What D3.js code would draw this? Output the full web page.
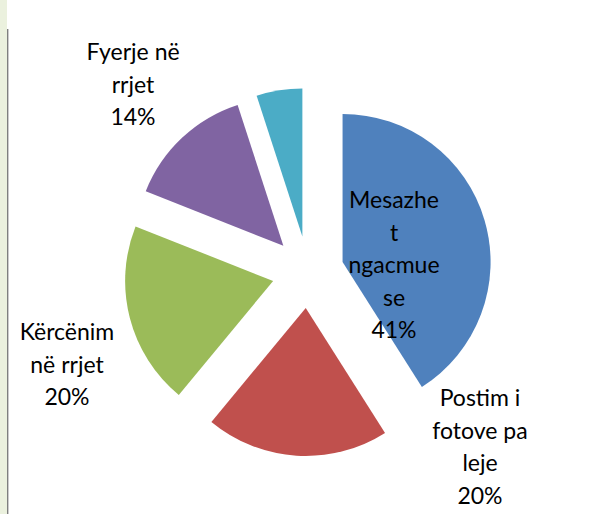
<!DOCTYPE html>
<html>
<head>
<meta charset="utf-8">
<script src="https://cdn.jsdelivr.net/npm/d3@7"></script>
<style>
	body { margin: 0; background: #fff; }
	svg { display: block; }
</style>
</head>
<body>
<div id="chart"></div>
<script>
// data
var categories = ["Mesazhe ngacmuese", "Postim i fotove pa leje", "Kërcënim në rrjet", "Fyerje në rrjet", "Tjetër"];
var values = [41, 20, 20, 14, 5];
var colors = ["#4f81bd", "#c0504d", "#9bbb59", "#8064a2", "#4bacc6"];
// label text as wrapped in the chart (last slice has no label)
var labelLines = [
	["Mesazhe", "t", "ngacmue", "se"],
	["Postim i", "fotove pa", "leje"],
	["Kërcënim", "në rrjet"],
	["Fyerje në", "rrjet"],
	[]
];

// layout
var width = 600, height = 514;
var cx = 308, cy = 272, radius = 148, explode = 36;
var lineH = 32.5;
var labelPos = [[394, 208], [480, 406], [67, 340], [133, 60], null];

var svg = d3.select("#chart")
	.append("svg")
	.attr("width", width)
	.attr("height", height);

svg.append("rect")
	.attr("width", width)
	.attr("height", height)
	.attr("fill", "#fff");

// title of the page, mostly above the visible area
svg.append("text")
	.attr("x", 22)
	.attr("y", -4)
	.attr("font-family", "Lato, sans-serif")
	.attr("font-size", 19)
	.attr("fill", "#8db3e2")
	.text("Grafiku 1: Llojet e ngacmimit gjatë përdorimit të rrjeteve sociale, sipas grupmoshave");

// left page strip
svg.append("rect")
	.attr("x", 0).attr("y", 0)
	.attr("width", 7).attr("height", height)
	.attr("fill", "#ebf1de");
svg.append("rect")
	.attr("x", 7).attr("y", 29)
	.attr("width", 1.4).attr("height", height - 29)
	.attr("fill", "#7f7f7f");

var pie = d3.pie().sort(null).value(function(d) { return d; });
var arc = d3.arc().innerRadius(0).outerRadius(radius);
var arcs = pie(values);

var g = svg.append("g").attr("transform", "translate(" + cx + "," + cy + ")");

g.selectAll("path")
	.data(arcs)
	.enter()
	.append("path")
	.attr("d", arc)
	.attr("fill", function(d, i) { return colors[i]; })
	.attr("transform", function(d) {
		var mid = (d.startAngle + d.endAngle) / 2;
		return "translate(" + (Math.sin(mid) * explode) + "," + (-Math.cos(mid) * explode) + ")";
	});

// labels
arcs.forEach(function(d, i) {
	if (!labelPos[i]) return;
	var lines = labelLines[i].concat([values[i] + "%"]);
	var t = svg.append("text")
		.attr("text-anchor", "middle")
		.attr("font-family", "Lato, sans-serif")
		.attr("font-size", 23)
		.attr("fill", "#000");
	lines.forEach(function(line, j) {
		t.append("tspan")
			.attr("x", labelPos[i][0])
			.attr("y", labelPos[i][1] + j * lineH)
			.text(line);
	});
});
</script>
</body>
</html>
